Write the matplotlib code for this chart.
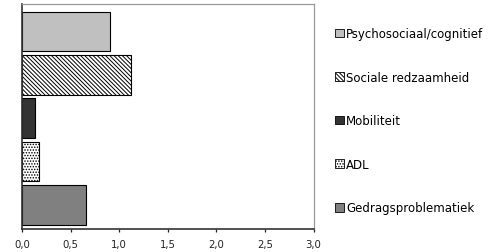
import matplotlib.pyplot as plt
from matplotlib.patches import Patch

categories = ["Psychosociaal/cognitief", "Sociale redzaamheid", "Mobiliteit", "ADL", "Gedragsproblematiek"]
values = [0.91, 1.12, 0.13, 0.18, 0.66]
colors = ["#c0c0c0", "white", "#333333", "white", "#808080"]
hatches = ["", r"\\\\\\\\", "", "......", ""]
xticks = [0.0, 0.5, 1.0, 1.5, 2.0, 2.5, 3.0]
xtick_labels = ["0,0", "0,5", "1,0", "1,5", "2,0", "2,5", "3,0"]

plt.rcParams['hatch.linewidth'] = 0.7

fig = plt.figure(figsize=(4.98, 2.53), dpi=100)
# axes box in pixels: left 22, right 313.5, top 5.3, bottom 229.5
ax = fig.add_axes([22/498, 1 - 229.5/253, 291.5/498, 224.2/253])

ypos = list(range(len(categories)))[::-1]
for y, v, c, h in zip(ypos, values, colors, hatches):
    ax.barh(y, v, height=0.92, color=c, edgecolor="black", hatch=h, linewidth=0.8)

ax.set_xlim(0, 3.0)
ax.set_ylim(-0.547, 4.628)
ax.set_xticks(xticks)
ax.set_xticklabels(xtick_labels, fontsize=7.3)
ax.tick_params(axis="x", length=2.5, width=0.9, pad=5, colors="#222222")
ax.set_yticks([])
for side in ["top", "right"]:
    ax.spines[side].set_color("#999999")
    ax.spines[side].set_linewidth(0.9)
for side in ["left", "bottom"]:
    ax.spines[side].set_color("#333333")
    ax.spines[side].set_linewidth(1.2)

handles = [Patch(facecolor=c, edgecolor="black", hatch=h, linewidth=0.6)
           for c, h in zip(colors, hatches)]
fig.legend(handles, categories, loc="upper left", bbox_to_anchor=(330/498, 1 - 23.3/253),
           frameon=False, fontsize=8.5, handlelength=0.75, handleheight=0.75,
           handletextpad=0.2, labelspacing=2.59, borderaxespad=0)

fig.savefig("out.png", dpi=100)
